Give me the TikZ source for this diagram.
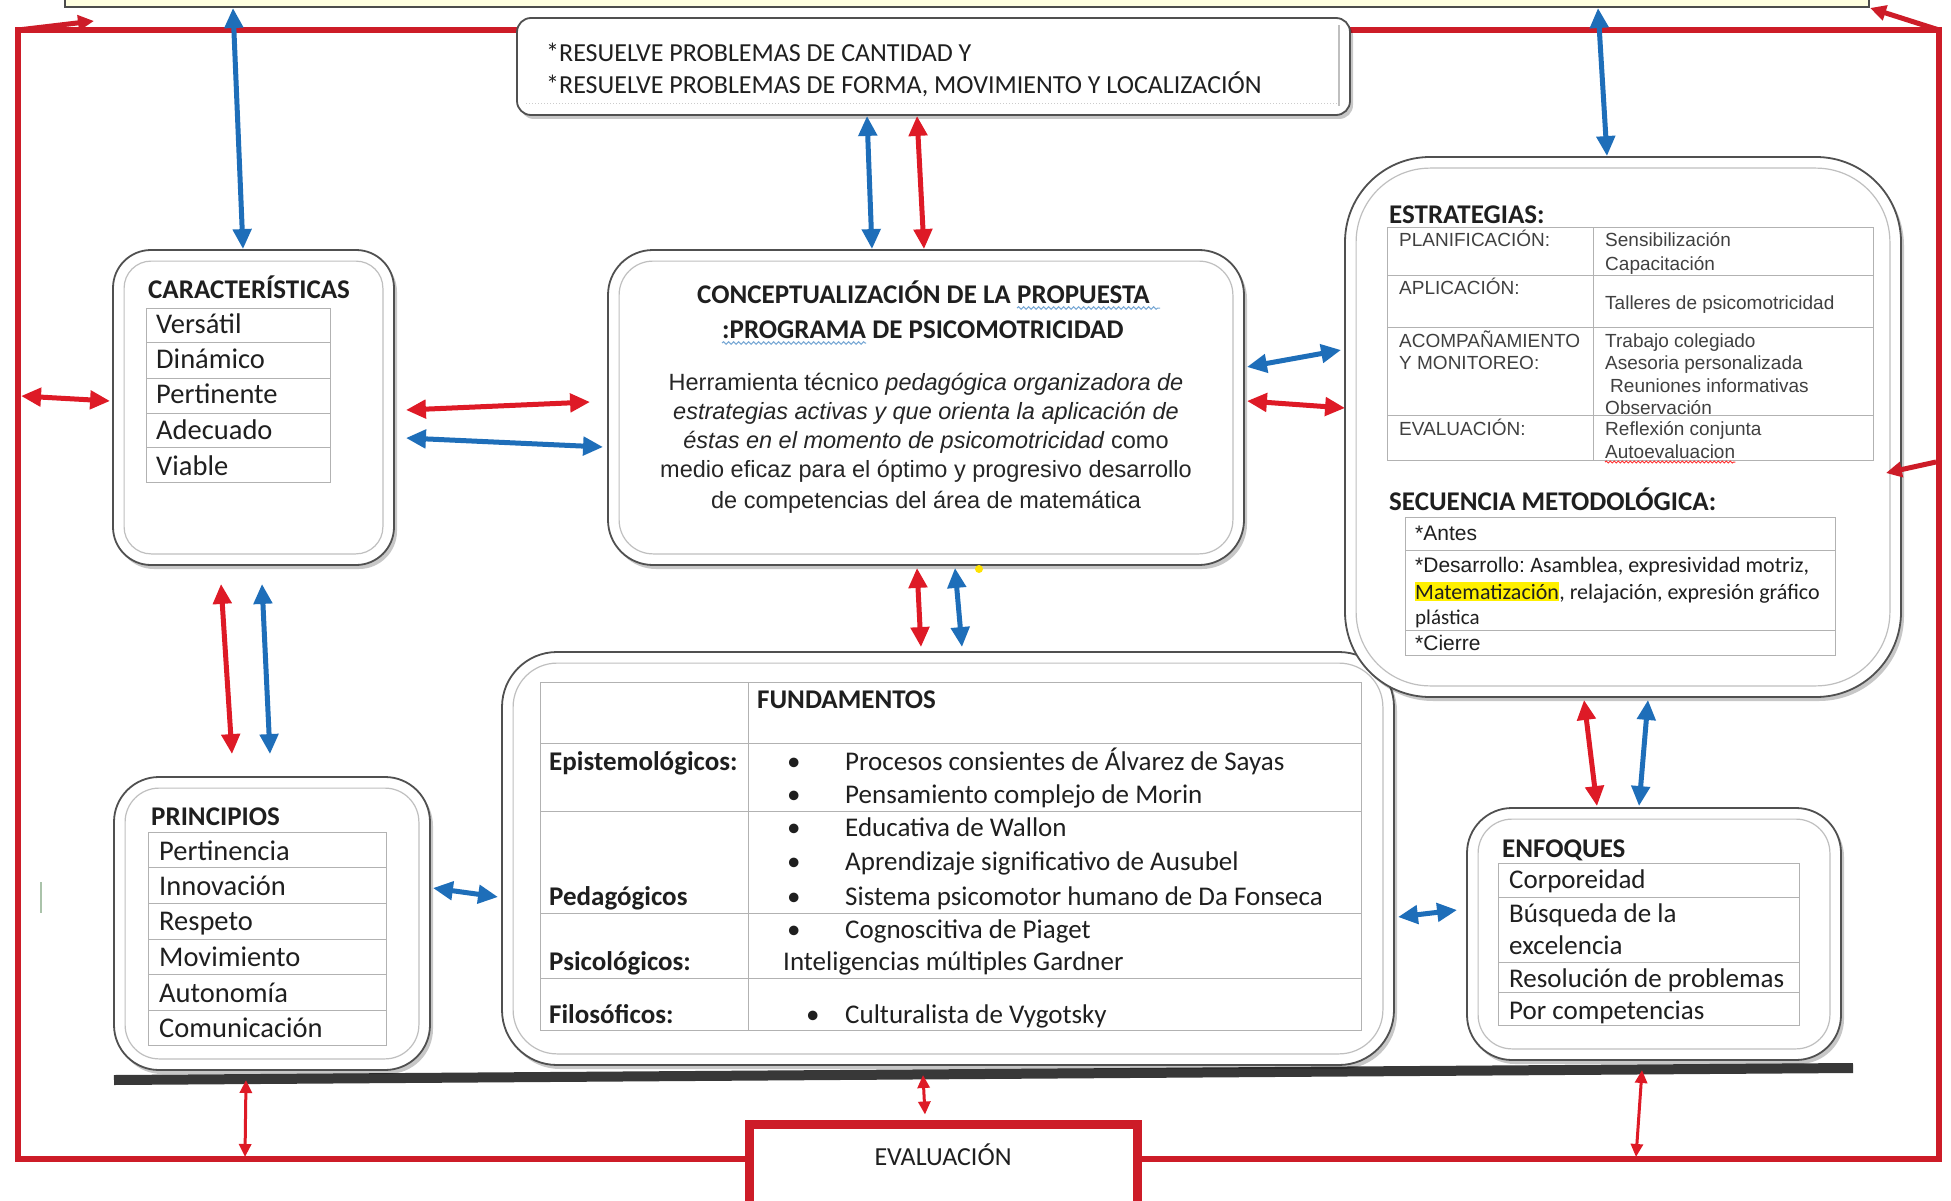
\documentclass[tikz,border=0pt]{standalone}
\usepackage{fontspec}
\setmainfont{Carlito}
\newfontfamily\arialf{Liberation Sans}
\usetikzlibrary{arrows.meta,calc,shadows,decorations.pathmorphing}
\definecolor{fred}{RGB}{205,28,40}
\definecolor{ared}{RGB}{222,26,38}
\definecolor{ablue}{RGB}{30,110,185}
\definecolor{boxline}{RGB}{80,80,80}
\definecolor{ylw}{RGB}{255,255,224}
\definecolor{hlc}{RGB}{255,240,0}
\definecolor{tickc}{RGB}{170,195,170}
\newcommand\fsz[1]{\fontsize{#1pt}{#1pt}\selectfont}
\begin{document}
\begin{tikzpicture}[x=1pt,y=-1pt,
  rbox/.style={draw=boxline, line width=1.8pt, fill=white, inner sep=0pt,
    drop shadow={shadow xshift=3pt, shadow yshift=-4pt, opacity=0.22, fill=black}},
  inl/.style={draw=black!25, line width=1.2pt},
  grd/.style={draw=black!30, line width=0.9pt},
  tx/.style={inner sep=0pt, anchor=base west, text=black!88},
  ttl/.style={tx, font=\fsz{27}\bfseries},
  itm/.style={tx, font=\fsz{28.5}},
  fd/.style={tx, font=\fsz{27}},
  fdb/.style={tx, font=\fsz{27}\bfseries},
  ar/.style={tx, font=\arialf\fsz{19}, text=black!75},
  cb/.style={inner sep=0pt, anchor=base, font=\arialf\fsz{23.5}, text=black!85},
  ba/.style={draw=ablue, line width=5pt, {Triangle[length=20pt,width=18pt]}-{Triangle[length=20pt,width=18pt]}},
  ra/.style={draw=ared, line width=5pt, {Triangle[length=20pt,width=18pt]}-{Triangle[length=20pt,width=18pt]}},
  rs/.style={draw=ared, line width=3pt, {Triangle[length=13pt,width=12pt]}-{Triangle[length=13pt,width=12pt]}},
  ro/.style={draw=fred, line width=5pt, -{Triangle[length=16pt,width=15pt]}},
  wav/.style={decorate, decoration={snake, amplitude=1.3pt, segment length=5pt}, line width=1pt}
]
\useasboundingbox (0,0) rectangle (1951,1201);
\fill[white] (0,0) rectangle (1951,1201);

% top yellow box (only bottom visible)
\node[draw=black!70, line width=2pt, fill=ylw, minimum width=1804pt, minimum height=40pt, inner sep=0pt] (top) at (967,-13) {};

% red frame
\draw[fred, line width=6pt] (18,30) rectangle (1939,1159);
\coordinate (fTL) at (18,30);
\coordinate (fTLa) at (94,21);
\coordinate (fTR) at (1939,30);
\coordinate (fL) at (21,396);
\coordinate (fR) at (1936,462);
\coordinate (fB1) at (245,1157);
\coordinate (fB2) at (1636,1157);
\draw[ro] (fTL) -- (fTLa);
\draw[ro] (fTR) -- (top.south east);

% gray bar
\coordinate (barL) at (114,1080);
\coordinate (barR) at (1853,1068);
\draw[black!78, line width=10pt] (barL) -- (barR);
\coordinate (b1) at (246,1080);
\coordinate (b2) at (923,1075);
\coordinate (b3) at (1642,1070);

% small marks
\draw[tickc, line width=2pt] (41,882) -- (41,913);

% boxes
\node[rbox, rounded corners=14pt, minimum width=833pt, minimum height=97pt] (res) at (933.5,66.5) {};
\node[rbox, rounded corners=38pt, minimum width=281pt, minimum height=315pt] (car) at (253.5,407.5) {};
\node[rbox, rounded corners=45pt, minimum width=636pt, minimum height=315pt] (con) at (926,407.5) {};
\node[rbox, rounded corners=45pt, minimum width=316pt, minimum height=293pt] (pri) at (272,923.5) {};
\node[rbox, rounded corners=55pt, minimum width=892pt, minimum height=413pt] (fun) at (948,858.5) {};
\node[rbox, rounded corners=85pt, minimum width=556pt, minimum height=540pt] (est) at (1623,427) {};
\node[rbox, rounded corners=45pt, minimum width=374pt, minimum height=252pt] (enf) at (1654,934) {};
\node[draw=fred, line width=9pt, fill=white, minimum width=388pt, minimum height=100pt, inner sep=0pt] (eva) at (943,1174) {};

\foreach \n/\r in {car/27, con/34, pri/34, fun/44, est/74, enf/34}
  \draw[inl, rounded corners=\r pt] ($(\n.north west)+(12,12)$) rectangle ($(\n.south east)+(-12,-12)$);
\draw[inl] ($(res.north east)+(-12,8)$) -- ($(res.south east)+(-12,-10)$);
\draw[black!20, dotted, line width=1pt] ($(res.south west)+(10,-12)$) -- ($(res.south east)+(-12,-12)$);

% ---------- arrows ----------
\draw[ba] ($(top.south west)+(169,0)$) -- ($(car.north)+(-10.5,0)$);
\draw[ba] ($(top.south west)+(1534,0)$) -- ($(est.north)+(-16,0)$);
\draw[ba] ($(res.south)+(-66.5,0)$) -- ($(con.north)+(-54,0)$);
\draw[ra] ($(res.south)+(-16.5,0)$) -- ($(con.north)+(-2,0)$);
\draw[ra] ($(car.east)+(11,2.5)$) -- ($(con.west)+(-17,-5.5)$);
\draw[ba] ($(car.east)+(11,30.5)$) -- ($(con.west)+(-4,39.5)$);
\draw[ra] (fL) -- ($(car.west)+(-2,-6.5)$);
\draw[ba] ($(con.east)+(2,-40.5)$) -- ($(est.west)+(-3,-77)$);
\draw[ra] ($(con.east)+(2,-6.5)$) -- ($(est.west)+(1,-19)$);
\draw[ro] (fR) -- ($(est.east)+(-16,46)$);
\draw[ra] ($(car.south)+(-32.5,18)$) -- ($(pri.north)+(-40,-22)$);
\draw[ba] ($(car.south)+(8.5,18)$) -- ($(pri.north)+(-2,-22)$);
\draw[ra] ($(con.south)+(-9,2)$) -- ($(fun.north)+(-27,-4)$);
\draw[ba] ($(con.south)+(29,2)$) -- ($(fun.north)+(14,-4)$);
\draw[ba] ($(pri.east)+(2,-35.5)$) -- ($(fun.west)+(-3,38.5)$);
\draw[ba] ($(fun.east)+(3,58.5)$) -- ($(enf.west)+(-9,-24)$);
\draw[ra] ($(est.south)+(-39,2)$) -- ($(enf.north)+(-57,-1)$);
\draw[ba] ($(est.south)+(25,2)$) -- ($(enf.north)+(-15,-1)$);
\draw[rs] (b1) -- (fB1);
\draw[rs] (b2) -- ($(eva.north)+(-18,-5)$);
\draw[rs] (b3) -- (fB2);
\fill[yellow!85!orange] (979,569) circle (4);

% ---------- RESUELVE ----------
\node[fd, font=\fsz{26}] (r1) at (546,62) {*RESUELVE PROBLEMAS DE CANTIDAD Y};
\node[fd, font=\fsz{26}] (r2) at (546,94) {*RESUELVE PROBLEMAS DE FORMA, MOVIMIENTO Y LOCALIZACIÓN};

% ---------- CARACTERISTICAS ----------
\node[ttl] (carT) at (148,298) {CARACTERÍSTICAS};
\draw[grd] (146,308) rectangle (330,482);
\foreach \yy in {342,378,413,447} \draw[grd] (146,\yy) -- (330,\yy);
\node[itm] (car1) at (156,333) {Versátil};
\node[itm] (car2) at (156,368) {Dinámico};
\node[itm] (car3) at (156,403) {Pertinente};
\node[itm] (car4) at (156,439) {Adecuado};
\node[itm] (car5) at (156,475) {Viable};

% ---------- PRINCIPIOS ----------
\node[ttl] (priT) at (151,825) {PRINCIPIOS};
\draw[grd] (148,832) rectangle (386,1045);
\foreach \yy in {867,903,939,974,1010} \draw[grd] (148,\yy) -- (386,\yy);
\node[itm] (pri1) at (159,860) {Pertinencia};
\node[itm] (pri2) at (159,895) {Innovación};
\node[itm] (pri3) at (159,930) {Respeto};
\node[itm] (pri4) at (159,966) {Movimiento};
\node[itm] (pri5) at (159,1002) {Autonomía};
\node[itm] (pri6) at (159,1037) {Comunicación};

% ---------- CONCEPTUALIZACION ----------
\node[ttl] (c1a) at (697,303) {CONCEPTUALIZACIÓN DE LA};
\node[ttl] (c1b) at ($(c1a.base east)+(6,0)$) {PROPUESTA};
\node[ttl] (c2a) at (722,338) {:PROGRAMA};
\node[ttl] (c2b) at ($(c2a.base east)+(6,0)$) {DE PSICOMOTRICIDAD};
\draw[wav, ablue!60] ($(c1b.base west)+(0,5)$) -- ($(c1b.base east)+(10,5)$);
\draw[wav, ablue!60] ($(c2a.base west)+(0,5)$) -- ($(c2a.base east)+(0,5)$);
\node[cb] (cb1) at (926,390) {Herramienta técnico \textit{pedagógica organizadora de}};
\node[cb] (cb2) at (926,419) {\textit{estrategias activas y que orienta la aplicación de}};
\node[cb] (cb3) at (926,448) {\textit{éstas en el momento de psicomotricidad} como};
\node[cb] (cb4) at (926,477) {medio eficaz para el óptimo y progresivo desarrollo};
\node[cb] (cb5) at (926,508) {de competencias del área de matemática};

% ---------- ESTRATEGIAS ----------
\node[ttl] (estT) at (1389,224) {ESTRATEGIAS:};
\draw[grd] (1387,227) rectangle (1873,460);
\draw[grd] (1593,227) -- (1593,460);
\foreach \yy in {275,327,415} \draw[grd] (1387,\yy) -- (1873,\yy);
\node[ar] (e1) at (1399,247) {PLANIFICACIÓN:};
\node[ar] (e2) at (1605,247) {Sensibilización};
\node[ar] (e3) at (1605,270) {Capacitación};
\node[ar] (e4) at (1399,294) {APLICACIÓN:};
\node[ar] (e5) at (1605,309) {Talleres de psicomotricidad};
\node[ar] (e6) at (1399,347) {ACOMPAÑAMIENTO};
\node[ar] (e7) at (1399,369) {Y MONITOREO:};
\node[ar] (e8) at (1605,347) {Trabajo colegiado};
\node[ar] (e9) at (1605,369) {Asesoria personalizada};
\node[ar] (e10) at (1610,392) {Reuniones informativas};
\node[ar] (e11) at (1605,414) {Observación};
\node[ar] (e12) at (1399,435) {EVALUACIÓN:};
\node[ar] (e13) at (1605,435) {Reflexión conjunta};
\node[ar] (e14) at (1605,458) {Autoevaluacion};
\draw[wav, red!80, decoration={snake, amplitude=1pt, segment length=4pt}] ($(e14.base west)+(0,4)$) -- ($(e14.base east)+(0,4)$);

% ---------- SECUENCIA ----------
\node[ttl] (secT) at (1389,510) {SECUENCIA METODOLÓGICA:};
\draw[grd] (1405,517) rectangle (1835,655);
\foreach \yy in {550,630} \draw[grd] (1405,\yy) -- (1835,\yy);
\node[tx, font=\arialf\fsz{21}] (s1) at (1415,540) {*Antes};
\node[tx, font=\arialf\fsz{21}] (s2a) at (1415,572) {*Desarrollo:};
\node[tx, font=\fsz{22}] (s2b) at ($(s2a.base east)+(5,0)$) {Asamblea, expresividad motriz,};
\node[tx, font=\fsz{22}, fill=hlc, inner xsep=0pt, inner ysep=2pt] (s3a) at (1415,599) {Matematización};
\node[tx, font=\fsz{22}] (s3b) at (s3a.base east) {, relajación, expresión gráfico};
\node[tx, font=\fsz{21}] (s4) at (1415,624) {plástica};
\node[tx, font=\arialf\fsz{21}] (s5) at (1415,650) {*Cierre};

% ---------- ENFOQUES ----------
\node[ttl] (enfT) at (1502,857) {ENFOQUES};
\draw[grd] (1498,863) rectangle (1799,1025);
\foreach \yy in {897,962,992} \draw[grd] (1498,\yy) -- (1799,\yy);
\node[fd] (en1) at (1509,888) {Corporeidad};
\node[fd] (en2) at (1509,922) {Búsqueda de la};
\node[fd] (en3) at (1509,954) {excelencia};
\node[fd] (en4) at (1509,987) {Resolución de problemas};
\node[fd] (en5) at (1509,1019) {Por competencias};

% ---------- FUNDAMENTOS ----------
\draw[grd] (540,682) rectangle (1361,1030);
\draw[grd] (748,682) -- (748,1030);
\foreach \yy in {743,811,913,978} \draw[grd] (540,\yy) -- (1361,\yy);
\node[fdb] (fT) at (757,708) {FUNDAMENTOS};
\node[fdb] (fE) at (549,770) {Epistemológicos:};
\node[fdb] (fP) at (549,905) {Pedagógicos};
\node[fdb] (fS) at (549,970) {Psicológicos:};
\node[fdb] (fF) at (549,1023) {Filosóficos:};
\node[fd] (bu1) at (787,770) {•};
\node[fd] (bu2) at (787,803) {•};
\node[fd] (bu3) at (787,836) {•};
\node[fd] (bu4) at (787,870) {•};
\node[fd] (bu5) at (787,905) {•};
\node[fd] (bu6) at (787,938) {•};
\node[fd] (bu7) at (806,1023) {•};
\node[fd] (f1) at (845,770) {Procesos consientes de Álvarez de Sayas};
\node[fd] (f2) at (845,803) {Pensamiento complejo de Morin};
\node[fd] (f3) at (845,836) {Educativa de Wallon};
\node[fd] (f4) at (845,870) {Aprendizaje significativo de Ausubel};
\node[fd] (f5) at (845,905) {Sistema psicomotor humano de Da Fonseca};
\node[fd] (f6) at (845,938) {Cognoscitiva de Piaget};
\node[fd] (f7) at (783,970) {Inteligencias múltiples Gardner};
\node[fd] (f8) at (845,1023) {Culturalista de Vygotsky};

% ---------- EVALUACION ----------
\node[tx, anchor=base, font=\fsz{26}] (evaT) at (943,1165) {EVALUACIÓN};
\end{tikzpicture}
\end{document}
